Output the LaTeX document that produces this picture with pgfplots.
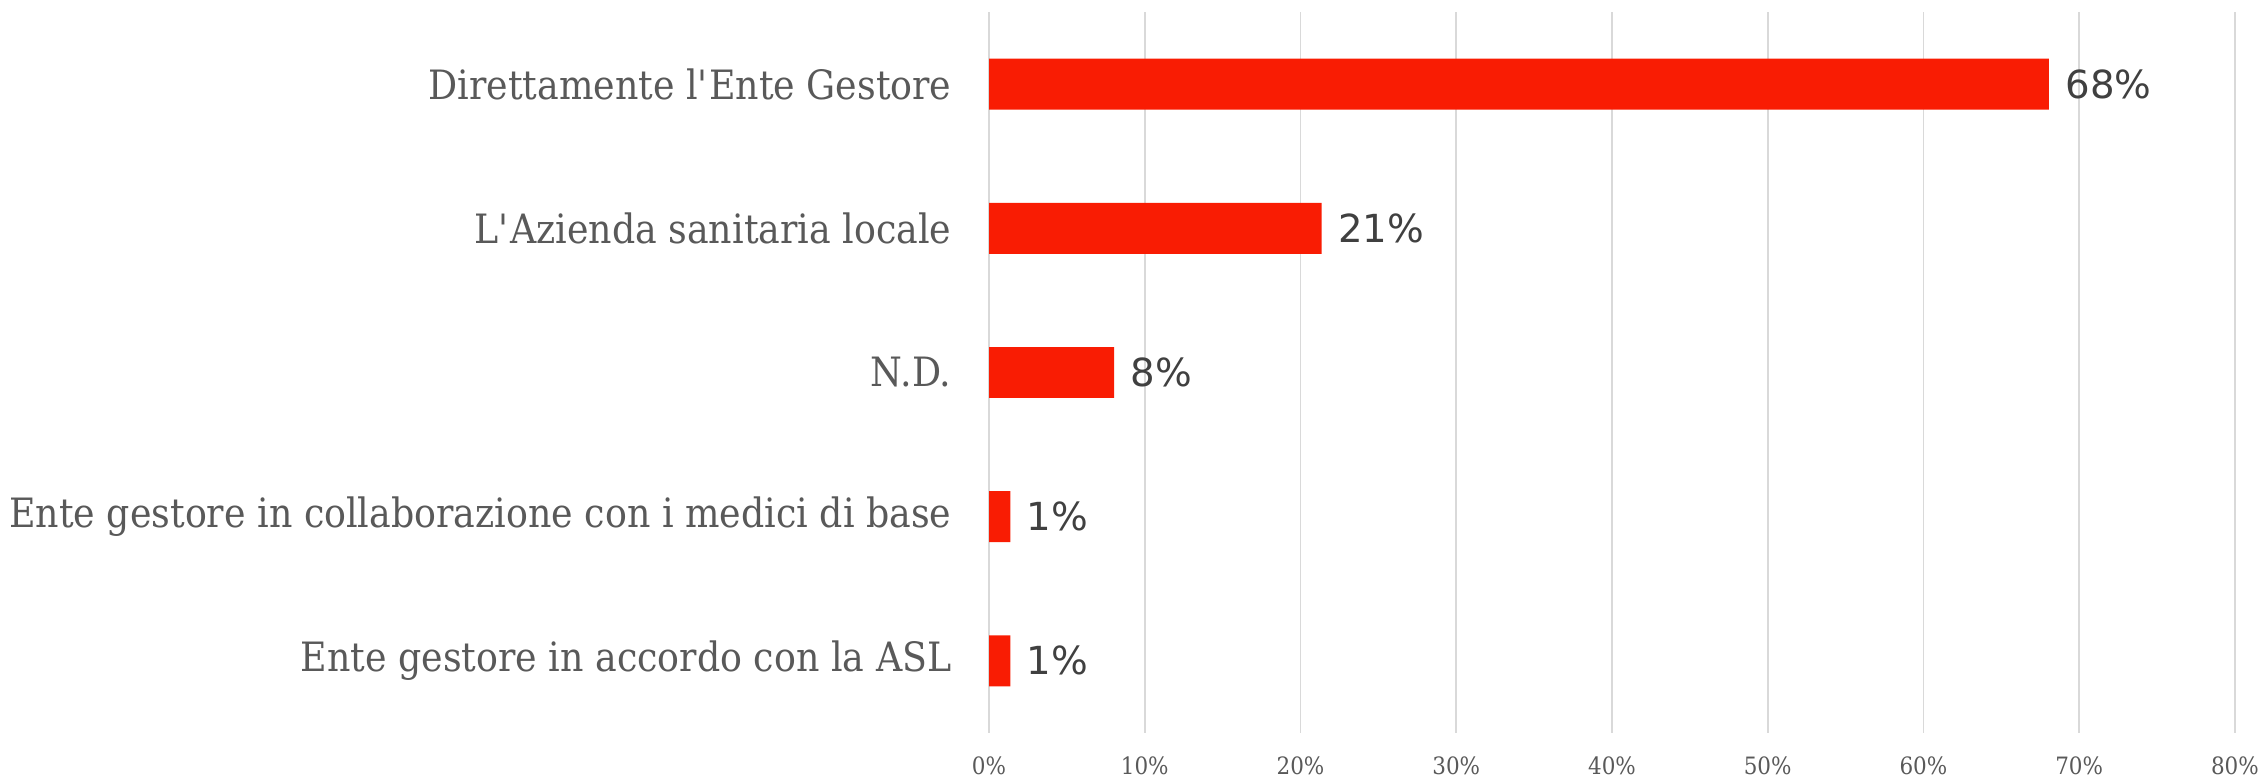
\documentclass[border=0pt]{standalone}
\usepackage{fontspec}
\setmainfont{DejaVu Serif}[FakeStretch=0.9]
\newfontfamily\valfont{DejaVu Sans}
\usepackage{pgfplots}
\pgfplotsset{compat=1.18}
\definecolor{barred}{HTML}{F91C03}
\definecolor{gridgray}{HTML}{D9D9D9}
\definecolor{labgray}{HTML}{595959}
\definecolor{valgray}{HTML}{404040}
\begin{document}
\begin{tikzpicture}[x=1pt,y=1pt]
\useasboundingbox (0,0) rectangle (644.45pt,221.08pt);
\begin{axis}[
  at={(281.4pt,12.52pt)}, anchor=south west,
  scale only axis, width=354.5pt, height=205.14pt,
  xbar, bar width=14.5pt,
  xmin=0, xmax=80, ymin=-0.5, ymax=4.5, y dir=reverse,
  xtick={0,10,...,80},
  xticklabel={\pgfmathprintnumber{\tick}\%},
  ytick={0,1,2,3,4},
  yticklabels={Direttamente l\textquotesingle Ente Gestore,L\textquotesingle Azienda sanitaria locale,N.D.,Ente gestore in collaborazione con i medici di base,Ente gestore in accordo con la ASL},
  axis line style={draw=none},
  major tick length=0pt,
  xmajorgrids, grid style={gridgray, line width=0.5pt},
  /pgf/number format/assume math mode=true,
  xticklabel style={font=\fontsize{6.8}{8}\selectfont, text=labgray, inner sep=0pt, yshift=-6.5pt},
  yticklabel style={font=\fontsize{11.5}{13}\selectfont, text=labgray, inner sep=0pt, xshift=-10.5pt},
  nodes near coords={\pgfmathprintnumber[fixed,precision=0]{\pgfplotspointmeta}\%},
  nodes near coords style={font=\valfont\fontsize{11}{13}\selectfont, text=valgray, anchor=west, inner sep=0pt, xshift=4.5pt},
  point meta=explicit,
  clip=false,
]
\addplot[fill=barred, draw=none] coordinates {
  (68.06,0) [68.06]
  (21.35,1) [21.35]
  (8.03,2) [8.03]
  (1.37,3) [1.37]
  (1.37,4) [1.37]
};
\end{axis}
\end{tikzpicture}
\end{document}
